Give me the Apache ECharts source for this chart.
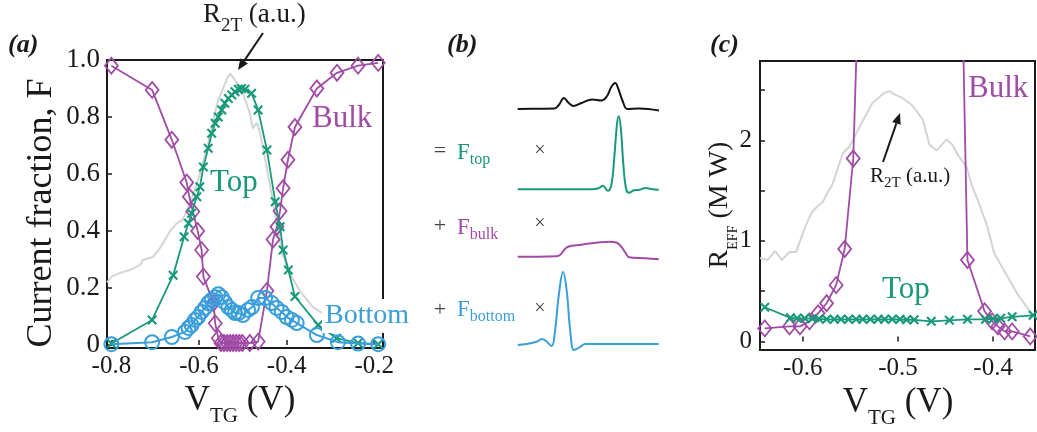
<!DOCTYPE html>
<html>
<head>
<meta charset="utf-8">
<script src="https://cdn.jsdelivr.net/npm/echarts@6/dist/echarts.min.js"></script>
<style>
  html, body { margin: 0; padding: 0; background: #fff; }
  #chart { width: 1037px; height: 432px; }
</style>
</head>
<body>
<div id="chart"></div>
<script>
// ---------- Panel (a): current fraction vs top-gate voltage ----------
const vBulkA = [-0.800, -0.707, -0.662, -0.628, -0.622, -0.614, -0.603, -0.594, -0.590, -0.567, -0.563, -0.556,
  -0.550, -0.543, -0.536, -0.529, -0.522, -0.515, -0.508, -0.501, -0.484, -0.465, -0.445,
  -0.431, -0.422, -0.415, -0.408, -0.397, -0.381, -0.331, -0.285, -0.237, -0.191];
const fBulkA = [0.98, 0.895, 0.72, 0.57, 0.52, 0.468, 0.40, 0.333, 0.24, 0.147, 0.076, 0.024,
  0.007, 0.007, 0.007, 0.007, 0.007, 0.007, 0.007, 0.007, 0.007, 0.012, 0.19,
  0.37, 0.415, 0.47, 0.55, 0.65, 0.765, 0.90, 0.955, 0.98, 0.99];

const vTopA = [-0.800, -0.707, -0.659, -0.634, -0.624, -0.617, -0.605, -0.598, -0.590, -0.579, -0.571,
  -0.563, -0.556, -0.548, -0.541, -0.533, -0.525, -0.518, -0.510, -0.503, -0.495, -0.480,
  -0.465, -0.445, -0.426, -0.415, -0.408, -0.396, -0.381, -0.328, -0.286, -0.237, -0.191];
const fTopA = [0.005, 0.088, 0.245, 0.38, 0.427, 0.462, 0.52, 0.555, 0.625, 0.69, 0.743,
  0.778, 0.80, 0.825, 0.848, 0.865, 0.877, 0.889, 0.897, 0.90, 0.897, 0.883,
  0.825, 0.684, 0.503, 0.415, 0.333, 0.263, 0.17, 0.07, 0.024, 0.007, 0.003];

const vBottomA = [-0.800, -0.707, -0.662, -0.632, -0.624, -0.617, -0.609, -0.602, -0.594, -0.586, -0.579,
  -0.571, -0.563, -0.556, -0.548, -0.541, -0.533, -0.525, -0.518, -0.510, -0.500, -0.488,
  -0.479, -0.465, -0.449, -0.434, -0.423, -0.411, -0.400, -0.388, -0.377, -0.331, -0.283, -0.237, -0.191];
const fBottomA = [0.003, 0.01, 0.028, 0.046, 0.06, 0.07, 0.088, 0.098, 0.116, 0.13, 0.147,
  0.158, 0.168, 0.178, 0.168, 0.15, 0.133, 0.123, 0.112, 0.112, 0.105, 0.123,
  0.133, 0.165, 0.165, 0.147, 0.13, 0.116, 0.098, 0.088, 0.077, 0.035, 0.01, 0.005, 0.003];

// two-terminal resistance trace (arbitrary units)
const vR2TA = [-0.810, -0.799, -0.780, -0.758, -0.735, -0.728, -0.705, -0.689, -0.678, -0.666, -0.650,
  -0.637, -0.620, -0.600, -0.580, -0.566, -0.556, -0.545, -0.536, -0.529, -0.518, -0.511,
  -0.500, -0.484, -0.477, -0.468, -0.460, -0.445, -0.425, -0.410, -0.392, -0.370, -0.340,
  -0.294, -0.255, -0.187];
const r2tA = [0.22, 0.24, 0.253, 0.263, 0.28, 0.298, 0.309, 0.34, 0.368, 0.40, 0.428,
  0.44, 0.50, 0.59, 0.70, 0.80, 0.86, 0.90, 0.935, 0.953, 0.93, 0.912,
  0.884, 0.814, 0.76, 0.78, 0.74, 0.62, 0.45, 0.32, 0.25, 0.19, 0.133,
  0.088, 0.063, 0.042];

const ticksAX = [-0.8, -0.6, -0.4, -0.2];
const ticksAY = [0, 0.2, 0.4, 0.6, 0.8, 1.0];

// ---------- Panel (b): schematic traces (position along trace, amplitude) ----------
const traceR2TX = [0, 15, 26, 29, 32.6, 36, 39.4, 45, 52.6, 59, 63, 66, 68.8, 71, 74, 77.3, 85.7, 99.6];
const traceR2TY = [0, 0.3, 0.5, 4, 11, 6, 3, 6, 9.5, 8.5, 13, 22, 26, 20, 8, 0, 0.5, -1.5];

const traceTopX = [0, 52, 57, 60, 63.5, 66, 68, 70, 71.3, 72.8, 74.5, 76.5, 78.6, 82, 86, 90, 94, 99.5];
const traceTopY = [0, 0, 1, 3.5, -1.5, 4, 30, 65, 73, 60, 25, 0, -3.5, -1, -0.5, 1.2, 0.3, -0.5];

const traceBulkX = [0, 27.4, 30, 33, 35.5, 45, 58, 65, 70, 73, 76, 78.5, 90, 99.5];
const traceBulkY = [0, 0.5, 2, 7, 10, 12, 14.5, 15, 14, 10, 4, -0.6, -1.5, -2.6];

const traceBottomX = [0, 6, 13.4, 17, 20, 24, 26, 29, 32, 34.5, 37, 39.5, 41.5, 44, 47.7, 52, 99.5];
const traceBottomY = [0, 1, 3.3, 6, 4, -1, 10, 50, 73, 55, 15, -5, -4, -2, 1, 1, 1];

// ---------- Panel (c): effective resistance vs top-gate voltage ----------
const vBulkC = [-0.640, -0.614, -0.603, -0.593, -0.584, -0.575, -0.565, -0.556, -0.547, -0.540,
  -0.436, -0.427, -0.409, -0.401, -0.395, -0.388, -0.380, -0.361];
const rBulkC = [0.13, 0.15, 0.15, 0.20, 0.28, 0.38, 0.56, 0.92, 1.82, 4.0,
  5.2, 0.81, 0.30, 0.20, 0.15, 0.10, 0.10, 0.05];

const vTopC = [-0.640, -0.613, -0.606, -0.598, -0.590, -0.583, -0.575, -0.567, -0.560, -0.552, -0.544,
  -0.537, -0.529, -0.521, -0.514, -0.506, -0.498, -0.491, -0.483, -0.465, -0.446, -0.427,
  -0.408, -0.400, -0.392, -0.380, -0.358];
const rTopC = [0.34, 0.235, 0.23, 0.23, 0.225, 0.225, 0.22, 0.22, 0.22, 0.22, 0.22,
  0.22, 0.22, 0.22, 0.22, 0.22, 0.22, 0.215, 0.215, 0.20, 0.21, 0.22,
  0.22, 0.225, 0.23, 0.245, 0.26];

const vR2TC = [-0.645, -0.637, -0.629, -0.622, -0.614, -0.607, -0.598, -0.591, -0.586, -0.579, -0.574,
  -0.569, -0.558, -0.551, -0.540, -0.527, -0.515, -0.509, -0.504, -0.495, -0.485, -0.474,
  -0.467, -0.459, -0.449, -0.443, -0.436, -0.428, -0.422, -0.415, -0.406, -0.399, -0.387,
  -0.373, -0.362, -0.357];
const r2tC = [0.83, 0.81, 0.90, 0.81, 0.89, 0.89, 1.13, 1.28, 1.33, 1.39, 1.48,
  1.56, 1.87, 1.94, 2.14, 2.37, 2.47, 2.49, 2.46, 2.42, 2.35, 2.21,
  1.96, 1.90, 2.01, 1.96, 1.84, 1.74, 1.54, 1.38, 1.14, 0.88, 0.68,
  0.45, 0.31, 0.25];

const ticksCX = [-0.6, -0.5, -0.4];
const ticksCY = [0, 0.5, 1, 1.5, 2, 2.5];
const labelsCY = [0, 1, 2];

// ---------- styling ----------
const SERIF = "'Liberation Serif', 'Times New Roman', serif";
const PURPLE = '#a04ba6';
const GREEN = '#18997a';
const BLUE = '#3a9edb';
const GRAY = '#d4d4d4';
const INK = '#1a1a1a';
const CROSS = 'path://M0,1.5L1.5,0L5,3.5L8.5,0L10,1.5L6.5,5L10,8.5L8.5,10L5,6.5L1.5,10L0,8.5L3.5,5Z';

const zip = (xs, ys) => xs.map((x, i) => [x, ys[i]]);

function arrow(x1, y1, x2, y2) {
  const a = Math.atan2(y2 - y1, x2 - x1);
  const L = 11, W = 4.5;
  const bx = x2 - L * Math.cos(a), by = y2 - L * Math.sin(a);
  const px = -Math.sin(a) * W, py = Math.cos(a) * W;
  return [
    { type: 'line', z: 60, shape: { x1, y1, x2: bx, y2: by }, style: { stroke: INK, lineWidth: 2 } },
    { type: 'polygon', z: 60, shape: { points: [[x2, y2], [bx + px, by + py], [bx - px, by - py]] }, style: { fill: INK } }
  ];
}

// text with a lowered subscript part: main + sub + tail
function subText(x, y, main, sub, tail, size, subSize, lineH, color, extra) {
  const st = {
    text: '{m|' + main + '}{s|' + sub + '}' + (tail ? '{m|' + tail + '}' : ''),
    align: (extra && extra.align) || 'left',
    verticalAlign: 'middle',
    rich: {
      m: { fontSize: size, fontFamily: SERIF, fill: color, lineHeight: lineH },
      s: { fontSize: subSize, fontFamily: SERIF, fill: color, lineHeight: subSize, verticalAlign: 'bottom' }
    }
  };
  return Object.assign({ type: 'text', x, y, z: 60, style: st }, extra && extra.rotation ? { rotation: extra.rotation } : {});
}

function plain(x, y, text, size, color, opts) {
  opts = opts || {};
  return {
    type: 'text', x, y, z: opts.z || 60, rotation: opts.rotation || 0,
    style: {
      text, fontSize: size, fontFamily: SERIF, fill: color,
      fontWeight: opts.weight || 'normal', fontStyle: opts.italic ? 'italic' : 'normal',
      align: opts.align || 'left', verticalAlign: 'middle',
      backgroundColor: opts.bg || null, padding: opts.pad || 0
    }
  };
}

function valueAxis(gridIndex, min, max, ticks, labels, fmt, margin, fontSize) {
  return {
    type: 'value', gridIndex, min, max,
    axisLine: { show: false },
    splitLine: { show: false },
    axisTick: { show: true, inside: true, length: 5, lineStyle: { color: INK, width: 1.5 }, customValues: ticks },
    axisLabel: { fontFamily: SERIF, fontSize, color: INK, customValues: labels, formatter: fmt, margin }
  };
}

function hiddenAxis(gridIndex, min, max) {
  return { type: 'value', gridIndex, min, max, show: false, splitLine: { show: false } };
}

const gridFrame = { show: true, borderColor: INK, borderWidth: 2, backgroundColor: 'rgba(0,0,0,0)' };
const traceLeft = 517.7, traceWidth = 141.8;

const diamondStyle = { color: 'rgba(255,255,255,0)', borderColor: PURPLE, borderWidth: 1.8 };

const option = {
  animation: false,
  backgroundColor: '#fff',
  grid: [
    Object.assign({ left: 107, top: 60, width: 276, height: 288 }, gridFrame),
    { left: traceLeft, width: traceWidth, top: 79, height: 35, show: false },
    { left: traceLeft, width: traceWidth, top: 113.3, height: 84, show: false },
    { left: traceLeft, width: traceWidth, top: 238.7, height: 23, show: false },
    { left: traceLeft, width: traceWidth, top: 269, height: 84, show: false },
    Object.assign({ left: 760, top: 61, width: 275, height: 289 }, gridFrame)
  ],
  xAxis: [
    valueAxis(0, -0.81, -0.18, ticksAX, ticksAX, v => v.toFixed(1), 6, 25),
    hiddenAxis(1, 0, 100), hiddenAxis(2, 0, 100), hiddenAxis(3, 0, 100), hiddenAxis(4, 0, 100),
    valueAxis(5, -0.645, -0.356, ticksCX, ticksCX, v => v.toFixed(1), 6, 25)
  ],
  yAxis: [
    valueAxis(0, -0.0105, 1.0, ticksAY, ticksAY, v => (v === 0 ? '0' : v.toFixed(1)), 7, 27),
    hiddenAxis(1, -5, 30), hiddenAxis(2, -8, 76), hiddenAxis(3, -5, 18), hiddenAxis(4, -8, 76),
    valueAxis(5, -0.085, 2.79, ticksCY, labelsCY, v => String(v), 8, 25)
  ],
  series: [
    // (a)
    { type: 'line', xAxisIndex: 0, yAxisIndex: 0, data: zip(vR2TA, r2tA), symbol: 'none', z: 1, silent: true,
      lineStyle: { color: GRAY, width: 2 } },
    { type: 'line', xAxisIndex: 0, yAxisIndex: 0, data: zip(vBulkA, fBulkA), symbol: 'diamond', symbolSize: [13, 16], z: 3, silent: true,
      lineStyle: { color: PURPLE, width: 1.8 }, itemStyle: diamondStyle },
    { type: 'line', xAxisIndex: 0, yAxisIndex: 0, data: zip(vTopA, fTopA), symbol: CROSS, symbolSize: 10, z: 4, silent: true,
      lineStyle: { color: GREEN, width: 1.8 }, itemStyle: { color: GREEN, borderWidth: 0 } },
    { type: 'line', xAxisIndex: 0, yAxisIndex: 0, data: zip(vBottomA, fBottomA), symbol: 'circle', symbolSize: 14, z: 5, silent: true,
      lineStyle: { color: BLUE, width: 2 }, itemStyle: { color: 'rgba(255,255,255,0)', borderColor: BLUE, borderWidth: 2 } },
    // (b)
    { type: 'line', xAxisIndex: 1, yAxisIndex: 1, data: zip(traceR2TX, traceR2TY), symbol: 'none', smooth: 0.4, clip: false, silent: true,
      lineStyle: { color: '#151515', width: 2 } },
    { type: 'line', xAxisIndex: 2, yAxisIndex: 2, data: zip(traceTopX, traceTopY), symbol: 'none', smooth: 0.4, clip: false, silent: true,
      lineStyle: { color: GREEN, width: 2 } },
    { type: 'line', xAxisIndex: 3, yAxisIndex: 3, data: zip(traceBulkX, traceBulkY), symbol: 'none', smooth: 0.4, clip: false, silent: true,
      lineStyle: { color: PURPLE, width: 2 } },
    { type: 'line', xAxisIndex: 4, yAxisIndex: 4, data: zip(traceBottomX, traceBottomY), symbol: 'none', smooth: 0.4, clip: false, silent: true,
      lineStyle: { color: BLUE, width: 2 } },
    // (c)
    { type: 'line', xAxisIndex: 5, yAxisIndex: 5, data: zip(vR2TC, r2tC), symbol: 'none', z: 1, silent: true,
      lineStyle: { color: GRAY, width: 2 } },
    { type: 'line', xAxisIndex: 5, yAxisIndex: 5, data: zip(vTopC, rTopC), symbol: CROSS, symbolSize: 10, z: 4, silent: true,
      lineStyle: { color: GREEN, width: 1.8 }, itemStyle: { color: GREEN, borderWidth: 0 } },
    { type: 'line', xAxisIndex: 5, yAxisIndex: 5, data: zip(vBulkC, rBulkC), symbol: 'diamond', symbolSize: [13, 16], z: 3, silent: true,
      lineStyle: { color: PURPLE, width: 1.8 }, itemStyle: diamondStyle }
  ],
  graphic: [
    // panel tags
    plain(8, 45, '(a)', 26, INK, { weight: 'bold', italic: true }),
    plain(447, 45, '(b)', 26, INK, { weight: 'bold', italic: true }),
    plain(710, 45, '(c)', 26, INK, { weight: 'bold', italic: true }),

    // (a) axis titles
    plain(42, 213, 'Current fraction, F', 36, INK, { align: 'center', rotation: Math.PI / 2 }),
    subText(240, 401, 'V', 'TG', ' (V)', 35, 21, 51, INK, { align: 'center' }),
    // (a) annotations
    subText(203, 15, 'R', '2T', ' (a.u.)', 27, 19, 41, INK),
    ...arrow(263, 33, 238, 70),
    plain(312, 119, 'Bulk', 31, PURPLE),
    plain(210, 183, 'Top', 31, GREEN),
    plain(322, 316, 'Bottom', 28, BLUE, { bg: '#fff', pad: [3, 3, 3, 3], z: 70 }),

    // (b) decomposition labels
    plain(440, 151, '=', 22, '#444', { align: 'center' }),
    subText(457, 153, 'F', 'top', '', 23, 16, 30, GREEN),
    plain(540, 151, '\u00d7', 20, '#444', { align: 'center' }),
    plain(440, 226, '+', 22, '#444', { align: 'center' }),
    subText(457, 228, 'F', 'bulk', '', 23, 16, 30, PURPLE),
    plain(540, 224, '\u00d7', 20, '#444', { align: 'center' }),
    plain(440, 310, '+', 22, '#444', { align: 'center' }),
    subText(457, 310, 'F', 'bottom', '', 23, 16, 30, BLUE),
    plain(540, 309, '\u00d7', 20, '#444', { align: 'center' }),

    // (c) axis titles
    subText(720, 205, 'R', 'EFF', ' (M W)', 28, 14, 40, INK, { align: 'center', rotation: Math.PI / 2 }),
    subText(898, 403, 'V', 'TG', ' (V)', 35, 21, 51, INK, { align: 'center' }),
    // (c) annotations
    plain(968, 89, 'Bulk', 31, PURPLE),
    plain(882, 290, 'Top', 31, GREEN),
    subText(870, 176, 'R', '2T', ' (a.u.)', 21, 15, 30, INK),
    ...arrow(883, 162, 900, 113)
  ]
};

const chart = echarts.init(document.getElementById('chart'), null, { renderer: 'canvas' });
chart.setOption(option);
</script>
</body>
</html>
